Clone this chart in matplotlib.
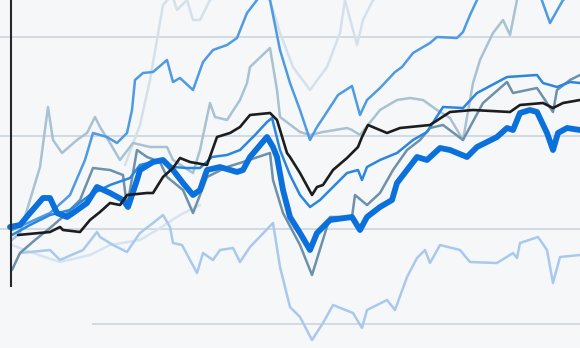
import matplotlib
matplotlib.use("Agg")
import matplotlib.pyplot as plt

# ---- data (levels, higher = up) ----
black_x = [18, 50, 60, 63, 80, 90, 100, 110, 120, 127, 147, 153, 163, 173, 180, 190, 207, 217, 230, 240,
           250, 270, 277, 287, 290, 300, 312, 317, 323, 333, 347, 358, 362, 368, 387, 400, 430, 450, 473, 510,
           520, 543, 553, 563, 580]
black_y = [113, 116, 121, 118, 116, 128, 136, 145, 143, 153, 155, 155, 171, 180, 190, 186, 183, 211, 215, 221,
           233, 235, 228, 195, 191, 175, 153, 161, 163, 178, 190, 201, 211, 223, 215, 220, 223, 236, 238, 236,
           243, 245, 240, 245, 248]

thick_x = [10, 20, 30, 43, 50, 57, 67, 73, 87, 97, 110, 123, 128, 137, 140, 153, 163, 173, 183, 193,
           200, 207, 220, 237, 243, 250, 267, 273, 277, 283, 290, 300, 310, 317, 330, 352, 360, 367, 380, 392,
           397, 407, 417, 427, 440, 450, 467, 477, 497, 507, 513, 520, 530, 537, 547, 553, 558, 567, 580]
thick_y = [121, 123, 135, 150, 150, 135, 131, 135, 145, 161, 155, 148, 141, 168, 178, 186, 188, 178, 165, 153,
           158, 178, 181, 176, 178, 191, 211, 201, 191, 158, 131, 115, 98, 115, 128, 131, 118, 131, 141, 148,
           165, 178, 191, 188, 200, 198, 191, 201, 211, 220, 218, 235, 238, 236, 215, 198, 215, 220, 218]

mid_x = [12, 30, 50, 70, 90, 110, 130, 140, 160, 173, 187, 200, 212, 227, 240, 255, 267, 272, 280, 290,
         300, 310, 320, 335, 347, 358, 362, 367, 380, 397, 413, 427, 443, 463, 477, 507, 537, 543, 557, 570, 580]
mid_y = [113, 123, 133, 138, 153, 163, 170, 183, 188, 181, 180, 180, 191, 193, 198, 213, 226, 230, 198, 173,
         153, 141, 148, 163, 175, 178, 168, 181, 188, 195, 208, 216, 241, 240, 255, 271, 273, 265, 261, 266, 265]

high_x = [12, 30, 50, 70, 85, 93, 107, 117, 127, 132, 135, 143, 153, 167, 173, 180, 193, 203, 213, 227,
          237, 247, 257, 263, 270, 280, 290, 300, 310, 317, 323, 338, 352, 360, 367, 380, 395, 402, 413, 430,
          437, 457, 463, 470, 477, 490, 520, 540, 550, 563, 580]
high_y = [118, 126, 135, 153, 188, 215, 211, 205, 215, 238, 268, 275, 276, 288, 266, 270, 258, 286, 298, 303,
          310, 335, 348, 358, 348, 298, 265, 238, 208, 221, 230, 253, 262, 233, 248, 260, 276, 281, 295, 305,
          311, 310, 316, 333, 348, 363, 368, 353, 325, 348, 358]

steel_x = [12, 20, 35, 50, 65, 80, 93, 110, 123, 127, 137, 147, 160, 167, 183, 193, 207, 227, 240, 270,
           273, 283, 300, 312, 330, 352, 355, 367, 380, 393, 407, 420, 430, 443, 463, 470, 483, 507, 513, 537,
           553, 557, 570, 580]
steel_y = [78, 95, 108, 120, 133, 148, 180, 178, 173, 141, 198, 191, 186, 171, 158, 135, 171, 181, 185, 195,
           168, 135, 103, 73, 131, 131, 153, 143, 155, 178, 198, 208, 220, 223, 208, 221, 245, 266, 255, 260,
           236, 258, 268, 273]

light_x = [12, 20, 40, 48, 53, 62, 77, 87, 95, 100, 110, 120, 133, 150, 167, 173, 193, 200, 210, 215,
           227, 240, 247, 250, 270, 277, 280, 300, 310, 323, 347, 352, 360, 380, 397, 410, 423, 437, 450, 463,
           473, 480, 493, 503, 510, 517, 530]
light_y = [108, 115, 181, 241, 208, 195, 208, 215, 231, 221, 205, 188, 205, 201, 201, 188, 175, 198, 245, 231,
           228, 248, 265, 281, 300, 258, 231, 216, 213, 216, 220, 218, 213, 238, 248, 250, 248, 238, 230, 208,
           265, 288, 315, 328, 313, 348, 368]

faint_top_x = [125, 140, 150, 157, 163, 172, 177, 187, 193, 200, 210, 230, 260, 270, 280, 293, 310, 327, 340, 345,
               357, 363, 373, 390]
faint_top_y = [183, 223, 268, 308, 343, 353, 338, 348, 328, 328, 348, 358, 358, 348, 315, 281, 258, 281, 315, 348,
               303, 328, 348, 358]

low_x = [20, 50, 60, 83, 97, 100, 113, 127, 133, 140, 153, 163, 170, 173, 182, 197, 203, 213, 220, 233,
         240, 250, 273, 280, 290, 300, 312, 323, 333, 353, 362, 367, 387, 395, 407, 417, 425, 430, 440, 460,
         470, 497, 513, 517, 520, 538, 547, 553, 560, 580]
low_y = [95, 98, 88, 98, 116, 111, 103, 96, 105, 115, 125, 133, 121, 105, 103, 75, 95, 88, 98, 100,
         86, 101, 125, 81, 41, 31, 8, 25, 43, 35, 20, 38, 48, 38, 71, 90, 98, 85, 103, 98,
         86, 85, 95, 90, 105, 111, 98, 65, 91, 93]

low2_x = [12, 30, 60, 90, 110, 140, 160, 180, 200]
low2_y = [103, 96, 86, 93, 103, 108, 120, 133, 143]

grid_levels = [311, 212, 119]
bottom_grid_level = 24
bottom_grid_start = 92
axis_x = 11
axis_bottom = 61

# ---- figure ----
fig = plt.figure(figsize=(5.8, 3.48), dpi=100)
fig.patch.set_facecolor("#f6f7f9")
ax = fig.add_axes([0, 0, 1, 1])
ax.set_facecolor("#f6f7f9")
ax.set_xlim(0, 580)
ax.set_ylim(0, 348)
ax.axis("off")

for g in grid_levels:
    ax.axhline(g, color="#c9d2dc", lw=1.1, zorder=1)
ax.hlines(bottom_grid_level, bottom_grid_start, 580, color="#c9d2dc", lw=1.1, zorder=1)
ax.vlines(axis_x, axis_bottom, 348, color="#24282c", lw=1.5, zorder=10)

kw = dict(solid_joinstyle="round", solid_capstyle="round")
ax.plot(low2_x, low2_y, color="#d6e4f2", lw=1.8, zorder=2, **kw)
ax.plot(faint_top_x, faint_top_y, color="#d5e1ea", lw=1.8, zorder=2, **kw)
ax.plot(low_x, low_y, color="#a9c9ec", lw=1.8, zorder=3, **kw)
ax.plot(light_x, light_y, color="#a8c2d3", lw=1.8, zorder=3, **kw)
ax.plot(steel_x, steel_y, color="#6e91aa", lw=1.8, zorder=4, **kw)
ax.plot(high_x, high_y, color="#4f9be3", lw=1.8, zorder=4, **kw)
ax.plot(mid_x, mid_y, color="#2a86df", lw=1.8, zorder=5, **kw)
ax.plot(thick_x, thick_y, color="#0a70db", lw=4.2, zorder=6, **kw)
ax.plot(black_x, black_y, color="#1b1d20", lw=1.9, zorder=7, **kw)

fig.savefig("out.png", dpi=100, facecolor=fig.get_facecolor())
